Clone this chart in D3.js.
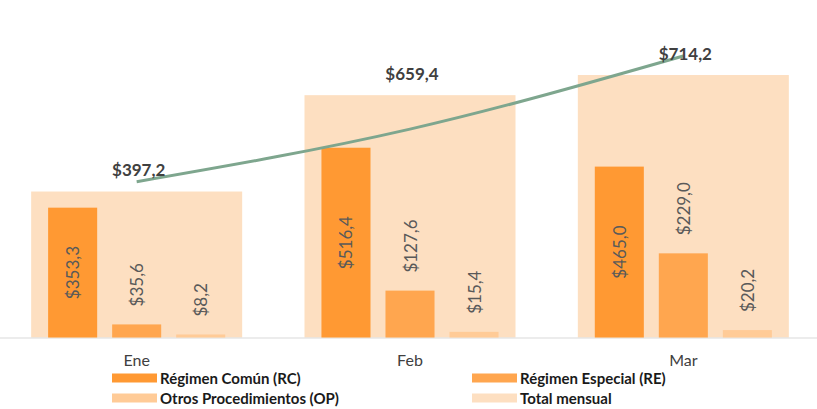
<!DOCTYPE html>
<html>
<head>
<meta charset="utf-8">
<script src="https://cdn.jsdelivr.net/npm/d3@7"></script>
<style>
  body { margin: 0; background: #fff; }
  svg { display: block; font-family: Lato, "Open Sans", sans-serif; }
</style>
</head>
<body>
<div id="chart"></div>
<script>
// chart data (millions)
const months = ["Ene", "Feb", "Mar"]
const seriesNames = ["Régimen Común (RC)", "Régimen Especial (RE)", "Otros Procedimientos (OP)"]
const rcValues = [353.3, 516.4, 465.0]
const reValues = [35.6, 127.6, 229.0]
const opValues = [8.2, 15.4, 20.2]
const totalValues = [397.2, 659.4, 714.2]
const trendValues = [424, 567, 766]
const totalName = "Total mensual"

const width = 817
const height = 409
const baseline = 337.5

const colors = {
  "Régimen Común (RC)": "#ff9933",
  "Régimen Especial (RE)": "#ffa64f",
  "Otros Procedimientos (OP)": "#ffcb97",
  "Total mensual": "#fddfc1"
}
const fmt = v => "$" + d3.format(".1f")(v).replace(".", ",")

const svg = d3.select("#chart").append("svg")
  .attr("width", width)
  .attr("height", height)

const x0 = d3.scaleBand().domain(months).range([0, 820])
  .paddingInner(0.228).paddingOuter(0.114)
const x1 = d3.scaleBand().domain(seriesNames).range([0, x0.bandwidth()])
  .paddingInner(0.234).paddingOuter(0.265)
const y = d3.scaleLinear().domain([0, 800]).range([baseline, baseline - 800 * 0.3675])

// total bars behind
svg.append("g").selectAll("rect")
  .data(months)
  .enter().append("rect")
  .attr("x", d => x0(d))
  .attr("y", (d, i) => y(totalValues[i]))
  .attr("width", x0.bandwidth())
  .attr("height", (d, i) => baseline - y(totalValues[i]))
  .attr("fill", colors[totalName])

// axis line
svg.append("line")
  .attr("x1", 0).attr("x2", width)
  .attr("y1", baseline + 0.5).attr("y2", baseline + 0.5)
  .attr("stroke", "#d9d9d9").attr("stroke-width", 1)

const seriesData = [rcValues, reValues, opValues]

seriesNames.forEach((name, s) => {
  const g = svg.append("g")
  g.selectAll("rect")
    .data(months)
    .enter().append("rect")
    .attr("x", d => x0(d) + x1(name))
    .attr("y", (d, i) => y(seriesData[s][i]))
    .attr("width", x1.bandwidth())
    .attr("height", (d, i) => baseline - y(seriesData[s][i]))
    .attr("fill", colors[name])

  // rotated value labels
  g.selectAll("text")
    .data(months)
    .enter().append("text")
    .attr("transform", (d, i) => {
      const cx = x0(d) + x1(name) + x1.bandwidth() / 2
      const top = y(seriesData[s][i])
      const cy = s === 0 ? (top + baseline) / 2 : top - 18
      return "translate(" + cx + "," + cy + ") rotate(-90)"
    })
    .attr("text-anchor", s === 0 ? "middle" : "start")
    .attr("dominant-baseline", "central")
    .attr("font-size", 17)
    .attr("fill", "#595959")
    .text((d, i) => fmt(seriesData[s][i]))
})

// green line
const line = d3.line()
  .x((d, i) => x0(months[i]) + x0.bandwidth() / 2)
  .y(d => y(d))
  .curve(d3.curveMonotoneX)

svg.append("path")
  .datum(trendValues)
  .attr("d", line)
  .attr("fill", "none")
  .attr("stroke", "#7ea68e")
  .attr("stroke-width", 3)

// total labels
svg.append("g").selectAll("text")
  .data(months)
  .enter().append("text")
  .attr("x", d => x0(d) + x0.bandwidth() / 2 + 2)
  .attr("y", (d, i) => y(totalValues[i]) - 22)
  .attr("text-anchor", "middle")
  .attr("dominant-baseline", "central")
  .attr("font-size", 17)
  .attr("font-weight", "bold")
  .attr("fill", "#404040")
  .text((d, i) => fmt(totalValues[i]))

// month labels
svg.append("g").selectAll("text")
  .data(months)
  .enter().append("text")
  .attr("x", d => x0(d) + x0.bandwidth() / 2)
  .attr("y", 359)
  .attr("text-anchor", "middle")
  .attr("dominant-baseline", "central")
  .attr("font-size", 16)
  .attr("fill", "#404040")
  .text(d => d)

// legend
const legendItems = seriesNames.concat([totalName])
const legend = svg.append("g").selectAll("g")
  .data(legendItems)
  .enter().append("g")
  .attr("transform", (d, i) => "translate(" + (i % 2 === 0 ? 112 : 472) + "," + (i < 2 ? 378 : 398) + ")")

legend.append("rect")
  .attr("x", 0).attr("y", -4.5)
  .attr("width", 45).attr("height", 9)
  .attr("fill", d => colors[d])

legend.append("text")
  .attr("x", 48)
  .attr("y", 0)
  .attr("dominant-baseline", "central")
  .attr("font-size", 15)
  .attr("font-weight", "bold")
  .attr("fill", "#1a1a1a")
  .text(d => d)
</script>
</body>
</html>
